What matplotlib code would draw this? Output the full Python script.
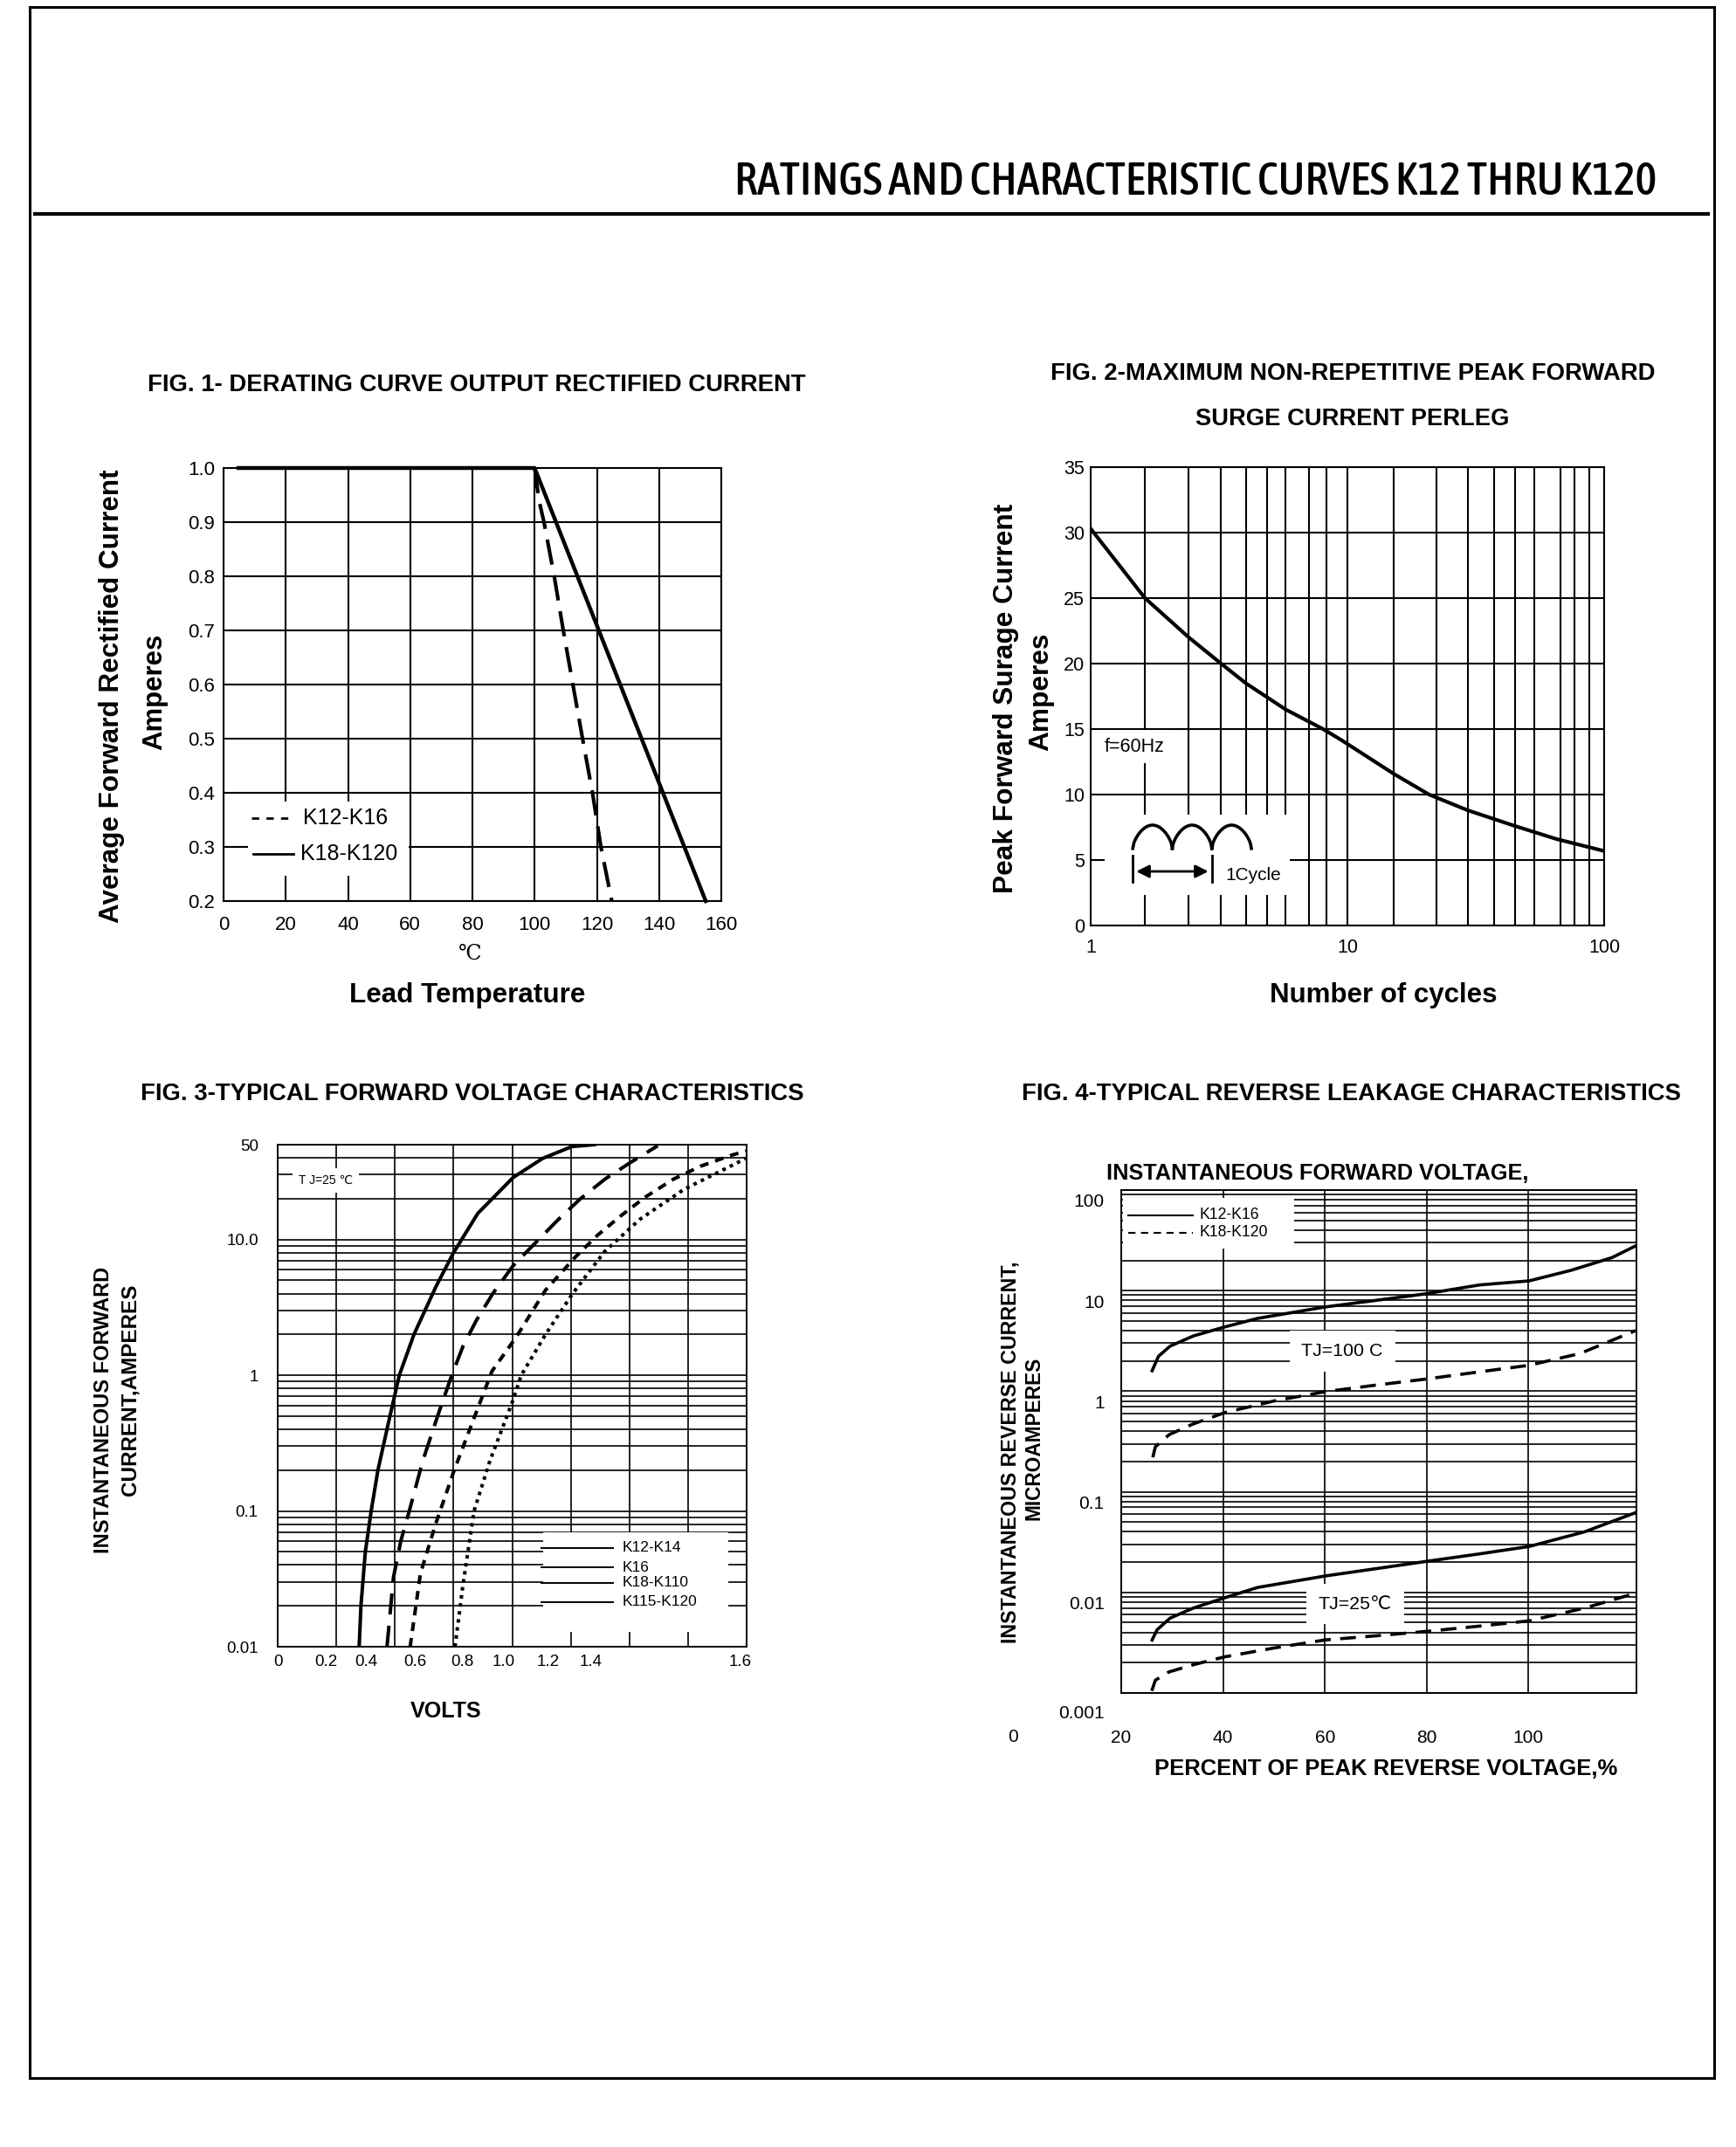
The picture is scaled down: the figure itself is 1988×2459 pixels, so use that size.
import numpy as np
import matplotlib
matplotlib.use('Agg')
import matplotlib.pyplot as plt
from matplotlib.patches import Rectangle
from matplotlib.lines import Line2D
from matplotlib.ticker import LogLocator, NullFormatter, FixedLocator
from matplotlib.transforms import ScaledTranslation
from matplotlib import font_manager
from matplotlib.font_manager import FontProperties

plt.rcParams['font.family'] = ['Liberation Sans', 'DejaVu Sans']

W, H = 1988, 2459

# ---- fig 1 : derating curve ----
temp_ticks = [0, 20, 40, 60, 80, 100, 120, 140, 160]
amp_ticks = [0.2, 0.3, 0.4, 0.5, 0.6, 0.7, 0.8, 0.9, 1.0]
temp_k18 = [4.8, 100, 155]
amps_k18 = [1.0, 1.0, 0.2]
temp_k12 = [100, 101.4, 103, 106.3, 109.2, 112.3, 115.4, 118.6, 121.3, 124.8]
amps_k12 = [1.0, 0.94, 0.9, 0.8, 0.7, 0.6, 0.5, 0.4, 0.3, 0.2]

# ---- fig 2 : surge current ----
cycle_ticks = [1, 10, 100]
surge_ticks = [0, 5, 10, 15, 20, 25, 30, 35]
cycles = [1.0, 1.627, 2.41, 3.22, 4.02, 5.74, 8.04, 9.49, 15.1, 20.8, 29.4, 44.9, 65.3, 100]
surge = [30.3, 25.0, 22.0, 20.0, 18.5, 16.5, 15.0, 14.15, 11.6, 10.0, 8.8, 7.6, 6.6, 5.69]
# the printed sheet's cycle grid is not a true log grid
cycle_grid = [1.627, 2.41, 3.20, 4.02, 4.86, 5.74, 7.07, 8.27,
              15.1, 22.3, 29.4, 37.2, 44.9, 53.3, 67.7, 76.8, 87.8]

# ---- fig 3 : forward voltage ----
volt_labels = ['0', '0.2', '0.4', '0.6', '0.8', '1.0', '1.2', '1.4', '1.6']
fwd_ticks = [0.01, 0.1, 1, 10, 50]
fwd_labels = ['0.01', '0.1', '1', '10.0', '50']
v_k12 = [0.278, 0.284, 0.299, 0.319, 0.342, 0.383, 0.415, 0.465, 0.540, 0.600, 0.683, 0.743, 0.803, 0.904, 1.004, 1.080]
i_k12 = [0.01, 0.02, 0.05, 0.1, 0.2, 0.5, 1, 2, 4.5, 8.0, 15.6, 21.1, 28.6, 39.6, 48.4, 50]
v_k16 = [0.373, 0.395, 0.420, 0.449, 0.495, 0.548, 0.594, 0.633, 0.678, 0.735, 0.803, 0.874, 0.954, 1.032, 1.117, 1.205, 1.297]
i_k16 = [0.01, 0.0324, 0.06, 0.1, 0.234, 0.518, 1.0, 1.65, 2.54, 4.03, 6.4, 9.2, 13.8, 19.9, 27.9, 37.1, 49.1]
v_k18 = [0.452, 0.487, 0.540, 0.602, 0.670, 0.731, 0.813, 0.914, 1.014, 1.090, 1.170, 1.255, 1.351, 1.446, 1.547, 1.597]
i_k18 = [0.01, 0.0346, 0.0815, 0.199, 0.484, 1.07, 1.90, 4.24, 7.37, 10.7, 14.9, 20.6, 27.9, 34.9, 41.7, 44.9]
v_k115 = [0.605, 0.632, 0.670, 0.724, 0.800, 0.831, 0.914, 1.004, 1.115, 1.236, 1.386, 1.547, 1.597]
i_k115 = [0.01, 0.0284, 0.1, 0.234, 0.63, 1.0, 2.0, 3.93, 8.14, 14.1, 23.4, 34.9, 39.6]
fig3_names = ['K12-K14', 'K16', 'K18-K110', 'K115-K120']

# ---- fig 4 : reverse leakage ----
pct_ticks = [20, 40, 60, 80, 100]
rev_ticks = [0.001, 0.01, 0.1, 1, 10, 100]
rev_labels = ['0.001', '0.01', '0.1', '1', '10', '100']
pct_s100 = [26.06, 27.33, 29.61, 34.2, 40.2, 46.8, 60.2, 70, 79.8, 90.4, 100.1, 108.3, 116.4, 121.0]
ir_s100 = [1.60, 2.23, 2.81, 3.55, 4.34, 5.3, 6.9, 8.0, 9.3, 11.4, 12.5, 15.9, 21.3, 27.8]
pct_d100 = [26.2, 26.7, 29.4, 34, 40.2, 50, 60.1, 70, 79.8, 90, 100.1, 110.1, 121.0]
ir_d100 = [0.22, 0.28, 0.37, 0.47, 0.61, 0.8, 0.99, 1.15, 1.32, 1.55, 1.81, 2.37, 4.0]
pct_s25 = [26.06, 27.04, 29.6, 34.2, 40.2, 46.8, 60.2, 70, 79.8, 90, 100.1, 111.0, 121.0]
ir_s25 = [0.00336, 0.00425, 0.00555, 0.0070, 0.0088, 0.0112, 0.0146, 0.0172, 0.0203, 0.024, 0.0286, 0.040, 0.062]
pct_d25 = [26.0, 26.7, 29.4, 34, 40.2, 50, 60.1, 70, 79.8, 90, 100.1, 111.0, 121.0]
ir_d25 = [0.00105, 0.00134, 0.00162, 0.0019, 0.00228, 0.0028, 0.00337, 0.0037, 0.00409, 0.0046, 0.00521, 0.00698, 0.0098]


fig = plt.figure(figsize=(W / 100, H / 100), dpi=100)
renderer = fig.canvas.get_renderer()


def add_ax(l, t, r, b):
    return fig.add_axes([l / W, 1 - b / H, (r - l) / W, (b - t) / H])


def ftext(x, y, s, width=None, rot=0, **kw):
    t = fig.text(x / W, 1 - y / H, s, ha='center', va='center', rotation=rot, **kw)
    if width:
        bb = t.get_window_extent(renderer=renderer)
        cur = bb.height if rot else bb.width
        t.set_fontsize(t.get_fontsize() * width / cur)
    return t


def style(ax, lw=1.5):
    for s in ax.spines.values():
        s.set_linewidth(lw)
        s.set_color('black')
    ax.tick_params(which='both', length=0)
    ax.set_axisbelow(True)


def condensed_font():
    # look for any condensed / narrow face, medium weight preferred
    best, best_score = None, None
    for f in font_manager.fontManager.ttflist:
        st = str(f.stretch).lower()
        nm = f.name.lower()
        if not ('condensed' in st or 'condensed' in nm or 'narrow' in nm):
            continue
        if str(f.style) != 'normal':
            continue
        try:
            w = int(f.weight)
        except (TypeError, ValueError):
            w = 700 if 'bold' in str(f.weight) else 400
        score = abs(w - 520)
        if 'extra' in st or 'ultra' in st or 'extra' in nm:
            score += 300
        if 'semi' in st:
            score += 80
        if best_score is None or score < best_score:
            best, best_score = f, score
    return best


# page frame and header
fig.add_artist(Rectangle((34 / W, 1 - 2380 / H), (1963 - 34) / W, (2380 - 8) / H,
                         transform=fig.transFigure, fill=False, lw=2.2, ec='black'))
fig.add_artist(Line2D([40 / W, 1956 / W], [1 - 245 / H] * 2, transform=fig.transFigure,
                      lw=3, color='black'))
cf = condensed_font()
if cf is not None:
    hprops = dict(fontproperties=FontProperties(fname=cf.fname, size=30))
else:
    hprops = dict(family='Liberation Sans', fontsize=30)
hdr = fig.text(1897 / W, 1 - 223 / H, 'RATINGS AND CHARACTERISTIC CURVES K12 THRU K120',
               ha='right', va='baseline', **hprops)
hdr.set_fontsize(30 * 1053 / hdr.get_window_extent(renderer=renderer).width)

# ---------------- FIG 1 ----------------
ax1 = add_ax(256, 536, 826, 1032)
style(ax1)
ax1.set_xlim(0, 160)
ax1.set_ylim(0.2, 1.0)
ax1.set_xticks(temp_ticks)
ax1.set_yticks(amp_ticks)
ax1.set_yticklabels(['%.1f' % a for a in amp_ticks])
ax1.tick_params(axis='both', labelsize=16)
ax1.tick_params(axis='x', pad=12)
ax1.tick_params(axis='y', pad=7)
ax1.grid(True, color='black', lw=1.5)
ax1.plot(temp_k18, amps_k18, color='black', lw=3.2, clip_on=False, zorder=3)
ax1.plot(temp_k12, amps_k12, color='black', lw=3, dashes=(7, 3), zorder=3)
ax1.add_patch(Rectangle((7.9, 0.247), 51.6, 0.137, fc='white', ec='none', zorder=1))
ax1.plot([9, 21], [0.353, 0.353], color='black', lw=2, dashes=(3, 3), zorder=2)
ax1.plot([9.5, 22.5], [0.287, 0.287], color='black', lw=2, zorder=2)
ax1.text(25.5, 0.353, 'K12-K16', fontsize=18, va='center', zorder=2)
ax1.text(24.6, 0.287, 'K18-K120', fontsize=18, va='center', zorder=2)

ftext(546, 441, 'FIG. 1- DERATING CURVE OUTPUT RECTIFIED CURRENT', width=753, weight='bold', fontsize=19)
ftext(128, 797, 'Average Forward Rectified Current', width=517, rot=90, weight='bold', fontsize=22)
ftext(177, 792, 'Amperes', width=133, rot=90, weight='bold', fontsize=22)
ftext(538, 1093, '℃', fontsize=17, family=['Liberation Serif', 'DejaVu Serif'])
ftext(535, 1140, 'Lead Temperature', width=270, weight='bold', fontsize=22)

# ---------------- FIG 2 ----------------
ax2 = add_ax(1249, 535, 1837, 1060)
style(ax2)
ax2.set_xscale('log')
ax2.set_xlim(1, 100)
ax2.set_ylim(0, 35)
ax2.set_xticks(cycle_ticks)
ax2.set_xticklabels([str(c) for c in cycle_ticks])
ax2.xaxis.set_minor_locator(FixedLocator(cycle_grid))
ax2.xaxis.set_minor_formatter(NullFormatter())
ax2.set_yticks(surge_ticks)
ax2.tick_params(axis='both', labelsize=15.5)
ax2.tick_params(axis='x', pad=11)
ax2.tick_params(axis='y', pad=5)
ax2.grid(True, which='both', axis='x', color='black', lw=1.5)
ax2.grid(True, which='major', axis='y', color='black', lw=1.5)
ax2.plot(cycles, surge, color='black', lw=3, zorder=3)

# inset: waveform and 1 cycle marker
ax2.add_patch(Rectangle((0.027, 0.067), 0.361, 0.175, transform=ax2.transAxes,
                        fc='white', ec='none', zorder=1))
ax2.text(0.026, 0.39, 'f=60Hz', transform=ax2.transAxes, fontsize=15.5, va='center',
         bbox=dict(fc='white', ec='none', pad=6), zorder=1)
t = np.linspace(0, 1, 40)
for k in range(3):
    x0 = 0.082 + k * 0.077
    ax2.plot(x0 + t * 0.077, 0.168 + 0.051 * np.sin(np.pi * t) ** 0.6,
             transform=ax2.transAxes, color='black', lw=2.6, zorder=3)
for xv in (0.082, 0.236):
    ax2.plot([xv, xv], [0.095, 0.152], transform=ax2.transAxes, color='black', lw=2, zorder=3)
ax2.annotate('', xy=(0.084, 0.118), xytext=(0.234, 0.118), xycoords='axes fraction',
             arrowprops=dict(arrowstyle='<|-|>', color='black', lw=2, mutation_scale=22),
             zorder=3)
ax2.text(0.262, 0.109, '1Cycle', transform=ax2.transAxes, fontsize=15, va='center', zorder=3)

ftext(1549, 428, 'FIG. 2-MAXIMUM NON-REPETITIVE PEAK FORWARD', width=690, weight='bold', fontsize=19)
ftext(1549, 480, 'SURGE CURRENT PERLEG', width=359, weight='bold', fontsize=19)
ftext(1152, 800, 'Peak Forward Surage Current', width=447, rot=90, weight='bold', fontsize=22)
ftext(1192, 792, 'Amperes', width=135, rot=90, weight='bold', fontsize=22)
ftext(1584, 1140, 'Number of cycles', width=260, weight='bold', fontsize=22)

# ---------------- FIG 3 ----------------
ax3 = add_ax(318, 1311, 855, 1886)
style(ax3, 1.4)
ax3.set_yscale('log')
ax3.set_xlim(0, 1.6)
ax3.set_ylim(0.01, 50)
ax3.set_yticks(fwd_ticks)
ax3.set_yticklabels(fwd_labels)
ax3.yaxis.set_minor_locator(LogLocator(base=10, subs=np.arange(2, 10)))
ax3.yaxis.set_minor_formatter(NullFormatter())
# printed voltage labels sit off the 0.2 V grid in the original sheet
ax3.set_xticks([0, 0.164, 0.301, 0.468, 0.629, 0.772, 0.924, 1.070, 1.579])
ax3.set_xticklabels(volt_labels)
ax3.set_xticks(np.arange(1, 8) * 0.2, minor=True)
ax3.tick_params(axis='both', labelsize=13.5)
ax3.tick_params(axis='x', pad=6.5)
ax3.tick_params(axis='y', pad=16)
ax3.grid(True, which='both', axis='y', color='black', lw=1.2)
ax3.grid(True, which='minor', axis='x', color='black', lw=1.2)
ax3.plot(v_k12, i_k12, color='black', lw=2.9, zorder=3)
ax3.plot(v_k16, i_k16, color='black', lw=2.9, dashes=(6, 3.2), zorder=3)
ax3.plot(v_k18, i_k18, color='black', lw=2.9, dashes=(2.5, 2), zorder=3)
ax3.plot(v_k115, i_k115, color='black', lw=2.9, dashes=(1, 1.3), zorder=3)

ax3.add_patch(Rectangle((0.566, 0.03), 0.395, 0.198, transform=ax3.transAxes,
                        fc='white', ec='none', zorder=1))
for yy, name in zip([0.197, 0.158, 0.127, 0.089], fig3_names):
    ax3.plot([0.562, 0.715], [yy, yy], transform=ax3.transAxes, color='black', lw=1.4, zorder=2)
    ax3.text(0.734, yy, name, transform=ax3.transAxes, fontsize=12.5, va='center', zorder=2)
ax3.text(0.045, 0.929, 'T J=25 ℃', transform=ax3.transAxes, fontsize=10, va='center',
         family=['Liberation Sans', 'DejaVu Sans'],
         bbox=dict(fc='white', ec='none', pad=5), zorder=2)

ftext(541, 1253, 'FIG. 3-TYPICAL FORWARD VOLTAGE CHARACTERISTICS', width=757, weight='bold', fontsize=19)
ftext(119, 1615, 'INSTANTANEOUS FORWARD', width=329, rot=90, weight='bold', fontsize=16)
ftext(149, 1592, 'CURRENT,AMPERES', width=243, rot=90, weight='bold', fontsize=16)
ftext(511, 1960, 'VOLTS', width=82, weight='bold', fontsize=17)

# ---------------- FIG 4 ----------------
ax4 = add_ax(1284, 1363, 1874, 1939)
style(ax4, 1.4)
ax4.set_yscale('log')
ax4.set_xlim(20, 121.2)
ax4.set_ylim(0.001, 100)
ax4.set_xticks(pct_ticks)
ax4.set_yticks(rev_ticks)
ax4.set_yticklabels(rev_labels)
ax4.yaxis.set_minor_locator(LogLocator(base=10, subs=np.arange(2, 10)))
ax4.yaxis.set_minor_formatter(NullFormatter())
ax4.tick_params(axis='both', labelsize=15)
ax4.tick_params(axis='x', pad=30)
ax4.tick_params(axis='y', pad=14)
ax4.grid(True, which='major', axis='x', color='black', lw=1.2)
ax4.grid(True, which='both', axis='y', color='black', lw=1.2)
for lab, off in zip(ax4.get_yticklabels(), [0.22, 0.12, 0.12, 0.12, 0.12, 0.12]):
    lab.set_transform(lab.get_transform() + ScaledTranslation(0, -off, fig.dpi_scale_trans))
ax4.text(-0.21, -0.0885, '0', transform=ax4.transAxes, fontsize=15, ha='center', va='center')

ax4.plot(pct_s100, ir_s100, color='black', lw=2.6, zorder=3)
ax4.plot(pct_d100, ir_d100, color='black', lw=2.6, dashes=(5, 3), zorder=3)
ax4.plot(pct_s25, ir_s25, color='black', lw=2.6, zorder=3)
ax4.plot(pct_d25, ir_d25, color='black', lw=2.6, dashes=(5, 3), zorder=3)

ax4.add_patch(Rectangle((0.004, 0.884), 0.332, 0.100, transform=ax4.transAxes,
                        fc='white', ec='none', zorder=1))
ax4.plot([0.014, 0.139], [0.950, 0.950], transform=ax4.transAxes, color='black', lw=1.5, zorder=2)
ax4.plot([0.014, 0.139], [0.915, 0.915], transform=ax4.transAxes, color='black', lw=1.5,
         dashes=(4, 3), zorder=2)
ax4.text(0.151, 0.950, 'K12-K16', transform=ax4.transAxes, fontsize=12.7, va='center', zorder=2)
ax4.text(0.151, 0.915, 'K18-K120', transform=ax4.transAxes, fontsize=12.7, va='center', zorder=2)
ax4.text(0.429, 0.679, 'TJ=100 C', transform=ax4.transAxes, fontsize=15.4, ha='center',
         va='center', bbox=dict(fc='white', ec='none', pad=10), zorder=2)
ax4.text(0.454, 0.177, 'TJ=25℃', transform=ax4.transAxes, fontsize=15.4, ha='center',
         va='center', family=['Liberation Sans', 'DejaVu Sans'],
         bbox=dict(fc='white', ec='none', pad=10), zorder=2)

ftext(1548, 1253, 'FIG. 4-TYPICAL REVERSE LEAKAGE CHARACTERISTICS', width=754, weight='bold', fontsize=19)
ftext(1509, 1344, 'INSTANTANEOUS FORWARD VOLTAGE,', width=483, weight='bold', fontsize=18)
ftext(1157, 1663, 'INSTANTANEOUS REVERSE CURRENT,', width=439, rot=90, weight='bold', fontsize=16)
ftext(1184, 1647, 'MICROAMPERES', width=188, rot=90, weight='bold', fontsize=16)
ftext(1587, 2026, 'PERCENT OF PEAK REVERSE VOLTAGE,%', width=528, weight='bold', fontsize=18)

fig.savefig('out.png', dpi=100)
